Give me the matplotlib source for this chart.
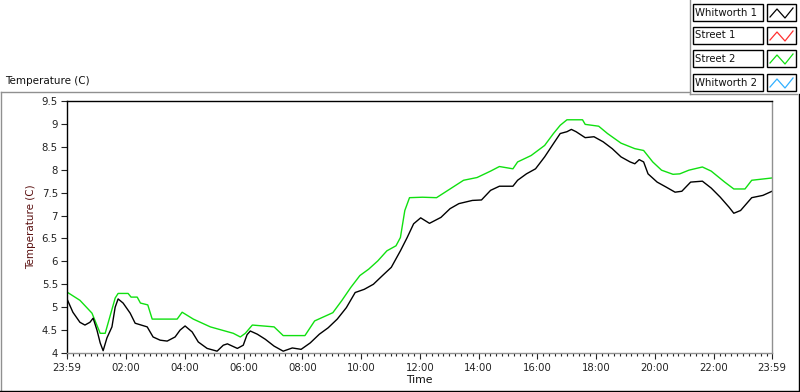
import matplotlib
matplotlib.use("Agg")
import matplotlib.pyplot as plt
from matplotlib.lines import Line2D
from matplotlib.patches import Rectangle

# ---- data (hours elapsed since 23:59) ----
t_whit1 = [0.00, 0.20, 0.44, 0.61, 0.78, 0.89, 1.02, 1.13, 1.23, 1.36, 1.53, 1.64, 1.74,
           1.91, 2.15, 2.32, 2.73, 2.93, 3.17, 3.41, 3.68, 3.85, 4.02, 4.26, 4.47, 4.77,
           5.11, 5.32, 5.46, 5.80, 6.00, 6.13, 6.24, 6.48, 6.75, 7.05, 7.36, 7.67, 7.97,
           8.28, 8.59, 8.89, 9.20, 9.51, 9.81, 10.12, 10.43, 10.74, 11.04, 11.35, 11.58,
           11.80, 12.04, 12.34, 12.73, 13.04, 13.34, 13.80, 14.11, 14.42, 14.72, 15.18,
           15.34, 15.64, 15.95, 16.26, 16.56, 16.79, 17.02, 17.17, 17.33, 17.64, 17.94,
           18.25, 18.56, 18.86, 19.17, 19.33, 19.48, 19.63, 19.78, 20.09, 20.40, 20.70,
           20.93, 21.23, 21.63, 21.93, 22.24, 22.54, 22.70, 22.93, 23.31, 23.69, 24.00]
v_whit1 = [5.18, 4.89, 4.67, 4.61, 4.67, 4.76, 4.50, 4.22, 4.05, 4.33, 4.57, 5.00, 5.18,
           5.09, 4.87, 4.65, 4.57, 4.35, 4.28, 4.26, 4.35, 4.50, 4.59, 4.46, 4.24, 4.10,
           4.04, 4.17, 4.20, 4.10, 4.17, 4.40, 4.48, 4.41, 4.30, 4.15, 4.04, 4.11, 4.08,
           4.22, 4.41, 4.55, 4.74, 4.99, 5.32, 5.39, 5.50, 5.69, 5.87, 6.23, 6.52,
           6.82, 6.95, 6.83, 6.96, 7.15, 7.26, 7.33, 7.34, 7.55, 7.64, 7.64,
           7.77, 7.91, 8.02, 8.28, 8.57, 8.79, 8.83, 8.88, 8.83, 8.70, 8.72,
           8.61, 8.46, 8.28, 8.17, 8.13, 8.22, 8.17, 7.91, 7.73, 7.62, 7.51,
           7.53, 7.73, 7.75, 7.60, 7.40, 7.18, 7.05, 7.11, 7.39, 7.44, 7.53]

t_street2 = [0.00, 0.44, 0.85, 1.13, 1.30, 1.64, 1.74, 2.08, 2.18, 2.39, 2.50, 2.75, 2.90,
             3.75, 3.92, 4.30, 4.88, 5.66, 5.90, 6.07, 6.31, 7.05, 7.36, 8.10, 8.43,
             8.74, 9.05, 9.35, 9.66, 9.97, 10.27, 10.58, 10.89, 11.20, 11.35, 11.50,
             11.66, 12.10, 12.58, 13.04, 13.50, 13.96, 14.42, 14.72, 15.18, 15.34,
             15.80, 16.26, 16.56, 16.79, 17.02, 17.55, 17.64, 18.10, 18.40, 18.86,
             19.33, 19.63, 19.94, 20.24, 20.63, 20.86, 21.17, 21.63, 21.93, 22.39,
             22.70, 23.08, 23.31, 24.00]
v_street2 = [5.33, 5.15, 4.87, 4.43, 4.43, 5.20, 5.30, 5.30, 5.22, 5.22, 5.09, 5.05, 4.74,
             4.74, 4.89, 4.74, 4.57, 4.43, 4.35, 4.43, 4.61, 4.57, 4.38, 4.38, 4.70,
             4.79, 4.88, 5.14, 5.43, 5.69, 5.83, 6.01, 6.23, 6.34, 6.52, 7.11,
             7.39, 7.40, 7.39, 7.58, 7.77, 7.83, 7.97, 8.07, 8.02, 8.17,
             8.31, 8.53, 8.79, 8.97, 9.09, 9.09, 8.99, 8.95, 8.79, 8.58,
             8.46, 8.42, 8.17, 7.99, 7.90, 7.91, 7.99, 8.06, 7.97, 7.73,
             7.58, 7.58, 7.77, 7.82]

series_names = ["Whitworth 1", "Street 1", "Street 2", "Whitworth 2"]
series_colors = ["#000000", "#ff3030", "#10e010", "#30b0ff"]

x_tick_hours = [0, 121/60, 241/60, 361/60, 481/60, 601/60, 721/60, 841/60,
                961/60, 1081/60, 1201/60, 1321/60, 24]
x_tick_labels = ["23:59", "02:00", "04:00", "06:00", "08:00", "10:00", "12:00",
                 "14:00", "16:00", "18:00", "20:00", "22:00", "23:59"]
y_ticks = [4, 4.5, 5, 5.5, 6, 6.5, 7, 7.5, 8, 8.5, 9, 9.5]
y_tick_labels = ["4", "4.5", "5", "5.5", "6", "6.5", "7", "7.5", "8", "8.5", "9", "9.5"]

W, H = 800, 392
fig = plt.figure(figsize=(W/100, H/100), dpi=100)
plt.rcParams['font.family'] = ['DejaVu Sans']

def fx(px):
    return px / W

def fy(py):
    return 1 - py / H

ax = fig.add_axes([fx(67), fy(353), fx(772) - fx(67), fy(101) - fy(353)])
ax.plot(t_street2, v_street2, color=series_colors[2], lw=1.0)
ax.plot(t_whit1, v_whit1, color=series_colors[0], lw=1.0)
ax.set_xlim(0, 24)
ax.set_ylim(4, 9.5)

ax.set_xticks(x_tick_hours)
ax.set_xticklabels(x_tick_labels)
minor = [(1 + 12*k)/60 for k in range(121) if (1 + 12*k) <= 1440]
ax.set_xticks(minor, minor=True)
ax.set_yticks(y_ticks)
ax.set_yticklabels(y_tick_labels)
ax.tick_params(axis='both', which='major', direction='out', length=4.5, width=0.8,
               labelsize=7.3, colors='#222222', pad=2)
ax.tick_params(axis='x', which='minor', direction='out', length=2.5, width=0.8, color='#222222')
ax.tick_params(axis='x', which='major', pad=3)

for side in ['top', 'left']:
    ax.spines[side].set_color('#000000')
    ax.spines[side].set_linewidth(1.0)
for side in ['right', 'bottom']:
    ax.spines[side].set_color('#909090')
    ax.spines[side].set_linewidth(1.0)

ax.set_ylabel("Temperature (C)", fontsize=7.5, color='#5a1010', labelpad=4)
ax.set_xlabel("Time", fontsize=7.8, color='#111111', labelpad=1)

# title above panel
fig.text(fx(5), fy(81), "Temperature (C)", fontsize=7.5, ha='left', va='center', color='#111111')

# outer frame lines
def fline(x0, y0, x1, y1, color, lw=1.0):
    fig.add_artist(Line2D([fx(x0), fx(x1)], [fy(y0), fy(y1)], color=color, lw=lw,
                          transform=fig.transFigure))

fline(0.5, 92, 690, 92, '#909090')
fline(0.8, 92, 0.8, 391, '#909090')
fline(690, 0, 690, 94, '#909090')
fline(690, 94, 797, 94, '#909090')
fline(798.5, 94, 798.5, 391, '#000000')
fline(0, 390.5, 799, 390.5, '#000000')

# legend boxes
row_top = [4, 27, 50, 74]
for name, col, yt in zip(series_names, series_colors, row_top):
    fig.add_artist(Rectangle((fx(692.5), fy(yt + 17)), fx(763) - fx(692.5), fy(yt) - fy(yt + 17),
                             transform=fig.transFigure, facecolor='white', edgecolor='black', lw=1.0))
    fig.text(fx(695), fy(yt + 8.5), name, fontsize=7.3, ha='left', va='center', color='#111111')
    fig.add_artist(Rectangle((fx(767), fy(yt + 17)), fx(796) - fx(767), fy(yt) - fy(yt + 17),
                             transform=fig.transFigure, facecolor='white', edgecolor='black', lw=1.0))
    zx = [770, 777, 785, 793]
    zy = [yt + 13, yt + 5, yt + 14, yt + 4]
    fig.add_artist(Line2D([fx(v) for v in zx], [fy(v) for v in zy], color=col, lw=0.9,
                          transform=fig.transFigure))

fig.savefig("out.png", dpi=100, facecolor='white')
